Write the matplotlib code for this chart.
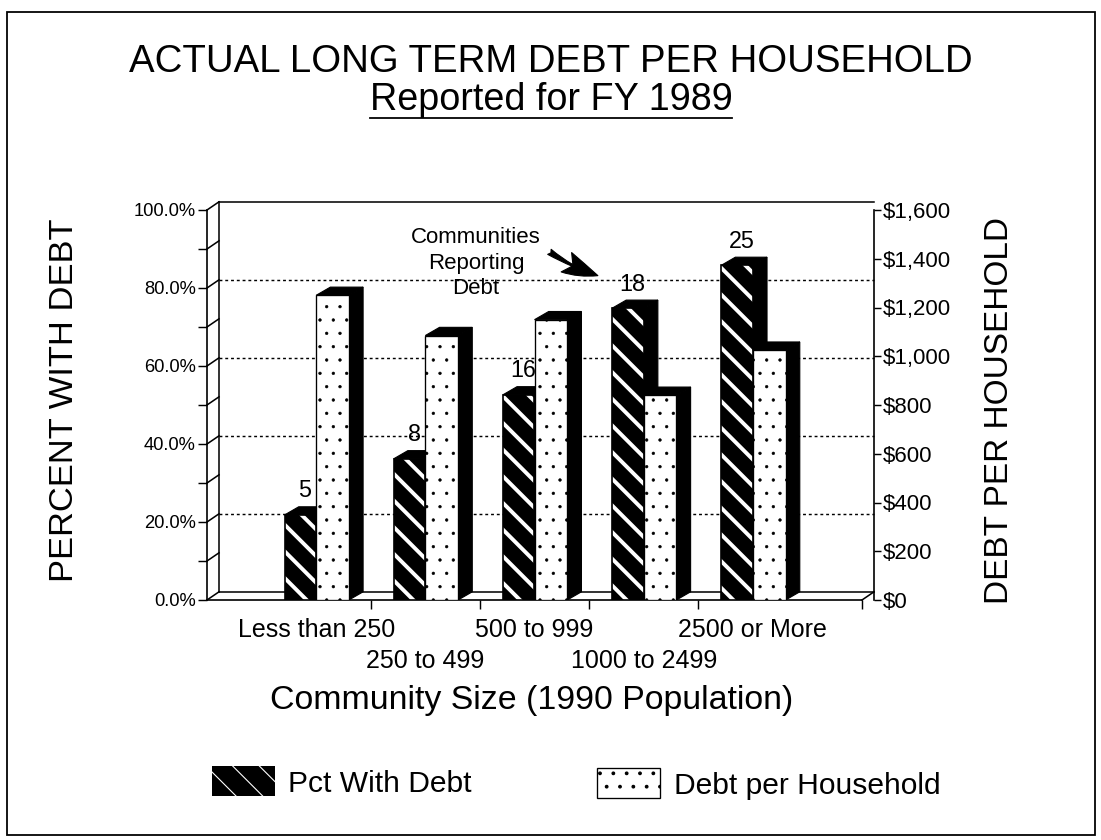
"""Recreate: Actual long term debt per household, FY 1989 (3-D style bar chart)."""
import numpy as np
import matplotlib
matplotlib.use('Agg')
import matplotlib.pyplot as plt
from matplotlib.patches import Polygon, Patch, Rectangle
from matplotlib.lines import Line2D
from matplotlib.ticker import MultipleLocator

plt.rcParams['font.family'] = ['Liberation Sans', 'DejaVu Sans']

# data
categories = ['Less than 250', '250 to 499', '500 to 999', '1000 to 2499', '2500 or More']
pct_with_debt = [21.8, 36.2, 52.6, 74.8, 85.8]          # percent
debt_per_household = [1250, 1085, 1150, 840, 1025]      # dollars
communities_reporting = [5, 8, 16, 18, 25]

DPI = 80
W, H = 1101, 840
fig = plt.figure(figsize=(W / DPI, H / DPI), dpi=DPI)
fig.patch.set_facecolor('white')


def fx(px):
    return px / W


def fy(py):
    return 1 - py / H


ax = fig.add_axes([fx(207), fy(600), fx(862) - fx(207), fy(210) - fy(600)])
ax.set_xlim(-1, 5)
ax.set_ylim(0, 100)
ax2 = ax.twinx()
ax2.set_ylim(0, 1600)
k = 1600 / 100  # $ per percent on the shared vertical scale

# depth offsets for the fake 3-D look
wdx, wdy = 0.11, 2.1   # walls / floor
bdx, bdy = 0.13, 2.1   # bars
pw, dw = 0.29, 0.30    # front face widths

x = np.arange(len(categories))

# back wall, floor and gridlines
lk = dict(color='black', lw=1.4, clip_on=False, zorder=1)
for v in [20, 40, 60, 80]:
    ax.plot([-1 + wdx, 5 + wdx], [v + wdy] * 2, ls=(0, (2, 2)), color='black', lw=1.3, zorder=1,
            clip_on=False)
ax.plot([-1 + wdx] * 2, [wdy, 100 + wdy], **lk)
ax.plot([-1 + wdx, 5 + wdx], [100 + wdy] * 2, **lk)
ax.plot([-1 + wdx, 5 + wdx], [wdy] * 2, **lk)
ax.plot([5, 5 + wdx], [0, wdy], **lk)
for v in range(0, 101, 10):
    ax.plot([-1, -1 + wdx], [v, v + wdy], **lk)

# pct bars (left axis)
with plt.rc_context({'hatch.linewidth': 3.5}):
    ax.bar(x - pw / 2, pct_with_debt, pw, color='black', edgecolor='white', hatch='\\',
           linewidth=0, zorder=3)
ax.bar(x - pw / 2, pct_with_debt, pw, fill=False, edgecolor='black', linewidth=1.5, zorder=3.5)
for xi, v in zip(x, pct_with_debt):
    x0, x1 = xi - pw, xi
    ax.add_patch(Polygon([(x0, v), (x1, v), (x1 + bdx, v + bdy), (x0 + bdx, v + bdy)],
                         closed=True, fc='black', ec='black', lw=1, zorder=2))
    ax.add_patch(Polygon([(x1, 0), (x1 + bdx, bdy), (x1 + bdx, v + bdy), (x1, v)],
                         closed=True, fc='black', ec='black', lw=1, zorder=2))

for xi, v, n in zip(x, pct_with_debt, communities_reporting):
    ax.annotate(str(n), xy=(xi - pw / 2 + bdx / 3, v + bdy), xytext=(0, 4),
                textcoords='offset points', ha='center', va='bottom', fontsize=21, zorder=5)

# debt bars (right axis)
with plt.rc_context({'hatch.linewidth': 0.5}):
    ax2.bar(x + dw / 2, debt_per_household, dw, color='white', edgecolor='black', hatch='.',
            linewidth=1.2, zorder=3)
for xi, v in zip(x, debt_per_household):
    x0, x1 = xi, xi + dw
    ax2.add_patch(Polygon([(x0, v), (x1, v), (x1 + bdx, v + bdy * k), (x0 + bdx, v + bdy * k)],
                          closed=True, fc='black', ec='black', lw=1, zorder=2))
    ax2.add_patch(Polygon([(x1, 0), (x1 + bdx, bdy * k), (x1 + bdx, v + bdy * k), (x1, v)],
                          closed=True, fc='black', ec='black', lw=1, zorder=2))

# annotation
ax2.text(1.464, 86.4 * k, 'Communities\nReporting\nDebt', ha='center', va='center',
         fontsize=20, linespacing=1.3, zorder=6)
ax2.annotate('', xy=(2.6, 83.0 * k), xytext=(2.12, 89.6 * k),
             arrowprops=dict(arrowstyle='fancy,head_length=1.4,head_width=0.9,tail_width=0.25',
                             fc='black', ec='black', lw=1, mutation_scale=22,
                             connectionstyle='arc3,rad=0.08'), zorder=6)

# axes styling
for s in ['top', 'right']:
    ax.spines[s].set_visible(False)
for s in ['top', 'left', 'bottom']:
    ax2.spines[s].set_visible(False)
ax.spines['left'].set_linewidth(1.5)
ax.spines['bottom'].set_linewidth(1.5)
ax2.spines['right'].set_position(('data', 5 + wdx))
ax2.spines['right'].set_linewidth(1.5)
ax.set_facecolor('none')

ax.set_yticks(range(0, 101, 20))
ax.set_yticklabels([f'{v:.1f}%' for v in range(0, 101, 20)], fontsize=16.5)
ax.yaxis.set_minor_locator(MultipleLocator(10))
ax.tick_params(axis='y', which='both', direction='out', length=8, width=1.3, pad=2)

ax2.set_yticks(range(0, 1601, 200))
ax2.set_yticklabels([f'${v:,}' for v in range(0, 1601, 200)], fontsize=20)
ax2.tick_params(axis='y', direction='out', length=6, width=1.3, pad=2)

# staggered category labels
ax.set_xticks(x)
ax.set_xticklabels([])
ax.tick_params(axis='x', which='major', length=0)
for i, (xi, c) in enumerate(zip(x, categories)):
    ax.annotate(c, xy=(xi, 0), xycoords=('data', 'axes fraction'),
                xytext=(0, -30 if i % 2 == 0 else -61), textcoords='offset pixels',
                ha='center', va='center', fontsize=22.5)
ax.set_xticks([0.5, 1.5, 2.5, 3.5, 5.0], minor=True)
ax.tick_params(axis='x', which='minor', direction='out', length=8, width=1.3)

# titles and axis labels
fig.text(fx(551), fy(62), 'ACTUAL LONG TERM DEBT PER HOUSEHOLD', ha='center', va='center',
         fontsize=34.5)
sub = fig.text(fx(551), fy(100), 'Reported for FY 1989', ha='center', va='center', fontsize=34)
fig.text(fx(65), fy(400), 'PERCENT WITH DEBT', rotation=90, ha='center', va='center', fontsize=31)
fig.text(fx(1000), fy(411), 'DEBT PER HOUSEHOLD', rotation=90, ha='center', va='center',
         fontsize=30)
fig.text(fx(532), fy(700), 'Community Size (1990 Population)', ha='center', va='center',
         fontsize=30.5)

# legend (two separate entries, like the original)
with plt.rc_context({'hatch.linewidth': 3.5}):
    h1 = Patch(facecolor='black', edgecolor='white', hatch='\\', linewidth=0)
with plt.rc_context({'hatch.linewidth': 0.5}):
    h2 = Patch(facecolor='white', edgecolor='black', hatch='.', linewidth=1.2)
lg = dict(frameon=False, borderpad=0, handlelength=2.1, handleheight=1.15, handletextpad=0.45,
          fontsize=27, loc='center left')
fig.legend([h1], ['Pct With Debt'], bbox_to_anchor=(fx(197), fy(782)), **lg)
fig.legend([h2], ['Debt per Household'], bbox_to_anchor=(fx(582), fy(784)), **lg)

# page border
fig.add_artist(Rectangle((fx(7), fy(835)), fx(1095) - fx(7), fy(12) - fy(835),
                         transform=fig.transFigure, fill=False, lw=1.6, ec='black'))

# underline the subtitle
fig.canvas.draw()
bb = sub.get_window_extent().transformed(fig.transFigure.inverted())
fig.add_artist(Line2D([bb.x0, bb.x1], [fy(118)] * 2, transform=fig.transFigure,
                      color='black', lw=1.6))

fig.savefig('out.png', dpi=DPI)
